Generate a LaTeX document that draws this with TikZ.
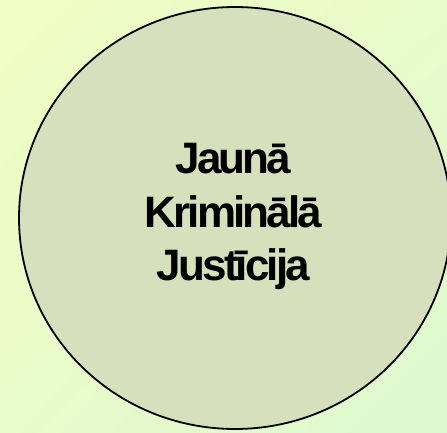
\documentclass[tikz,border=0pt]{standalone}
\usepackage{fontspec}
\setmainfont{Liberation Sans}
\newfontfamily\titlefont[LetterSpace=-6.5]{Liberation Sans}
\usepackage{tikz}
\usetikzlibrary{positioning, shadings}
\usepackage{xcolor}
\definecolor{bgyellow}{RGB}{241, 253, 196}
\definecolor{bgmid}{RGB}{232, 251, 202}
\definecolor{bggreen}{RGB}{221, 249, 208}
\definecolor{discfill}{RGB}{214, 224, 188}
\tikzset{
  backdrop/.style  = {upper left=bgyellow, upper right=bgmid, lower left=bgmid, lower right=bggreen},
  disc/.style      = {draw=black, line width=1.8pt, fill=discfill},
  titleline/.style = {anchor=base, font=\titlefont\fontsize{44}{53}\selectfont\bfseries, text=black, inner sep=0pt},
}

\begin{document}
\begin{tikzpicture}[x=1pt, y=1pt]
  % fixed frame, same size as the slide cut-out
  \useasboundingbox (0,0) rectangle (447,432);
  \shade[backdrop] (0,0) rectangle (447,432);

  % the big disc, slightly wider than tall
  \draw[disc] (235,214) ellipse [x radius=216, y radius=211];

  % title, three lines
  \node[titleline] (jauna) at (233.5,259) {Jaunā};
  \node[titleline] (kriminala) at (233.5,205) {Kriminālā};
  \node[titleline] (justicija) at (233.5,152) {Justīcija};
\end{tikzpicture}
\end{document}
